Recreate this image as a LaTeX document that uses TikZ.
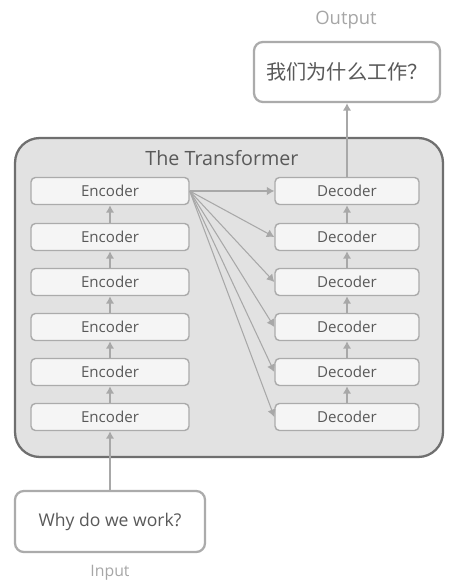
\documentclass[tikz,border=0pt]{standalone}
\usepackage{fontspec}
\setmainfont{Open Sans}
\newfontfamily\cjkfont{Noto Sans CJK SC}
\usepackage{tikz}
\usetikzlibrary{arrows.meta}

\definecolor{inktext}{HTML}{595959}
\definecolor{labeltext}{HTML}{A6A6A6}
\definecolor{boxline}{HTML}{ABABAB}
\definecolor{boxfill}{HTML}{F5F5F5}
\definecolor{frameline}{HTML}{6F6F6F}
\definecolor{framefill}{HTML}{E2E2E2}
\definecolor{arrowgray}{HTML}{A8A8A8}

\tikzset{
	stackbox/.style={draw=boxline, line width=0.8pt, fill=boxfill, rounded corners=2.5pt,
		minimum height=0.54cm, inner sep=0pt, text=inktext, font=\fontsize{8.6}{10}\selectfont},
	encbox/.style={stackbox, minimum width=3.16cm},
	decbox/.style={stackbox, minimum width=2.88cm},
	iobox/.style={draw=boxline, line width=1.3pt, fill=white, rounded corners=5pt,
		inner sep=0pt, text=inktext},
	flow/.style={->, draw=arrowgray, line width=1.3pt},
	link/.style={->, draw=arrowgray, line width=0.6pt},
}

\begin{document}
\begin{tikzpicture}[x=0.02cm, y=-0.02cm, >={Latex[length=1.5mm, width=1.7mm]}]
	\useasboundingbox (0,0) rectangle (450,580);

	% transformer frame
	\node[draw=frameline, line width=1.3pt, fill=framefill, rounded corners=14pt,
		minimum width=8.56cm, minimum height=6.38cm, inner sep=0pt] (tf) at (229,297.5) {};
	\node[text=inktext, font=\fontsize{11.2}{13}\selectfont] (title) at (222,158) {The Transformer};

	% encoder and decoder stacks, numbered from the bottom
	\foreach \y [count=\i] in {417,372,327,282,237,191} {
		\node[encbox] (enc\i) at (110,\y) {Encoder};
		\node[decbox] (dec\i) at (347,\y) {Decoder};
	}
	\foreach \i/\j in {1/2,2/3,3/4,4/5,5/6} {
		\draw[flow, line width=1pt] (enc\i.north) -- (enc\j.south);
		\draw[flow, line width=1pt] (dec\i.north) -- (dec\j.south);
	}
	\foreach \i in {1,...,6}
		\draw[link] (enc6.east) -- (dec\i.west);

	% input and output
	\node[iobox, minimum width=3.8cm, minimum height=1.22cm, font=\fontsize{10}{12}\selectfont] (in) at (110,521.5) {Why do we work?};
	\node[text=labeltext, font=\fontsize{9}{11}\selectfont] (inlabel) at (110,573) {Input};
	\node[iobox, minimum width=3.72cm, minimum height=1.2cm, font=\cjkfont\fontsize{11.5}{13}\selectfont] (out) at (347,72) {我们为什么工作？};
	\node[text=labeltext, font=\fontsize{10.5}{12}\selectfont] (outlabel) at (346,20) {Output};

	\draw[flow] (in.north) -- (enc1.south);
	\draw[flow] (dec6.north) -- (out.south);
\end{tikzpicture}
\end{document}
